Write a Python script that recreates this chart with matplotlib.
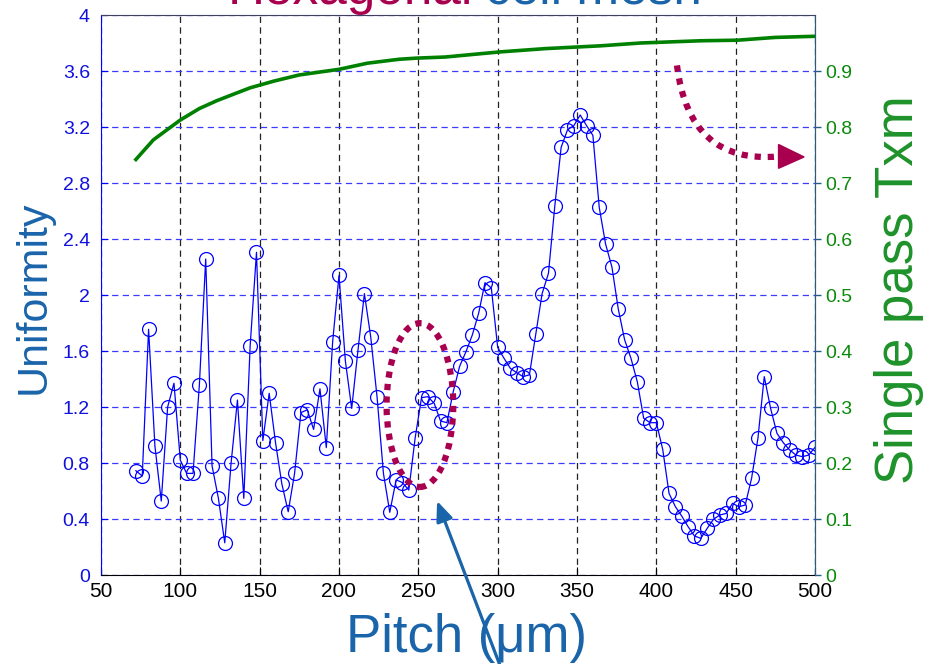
import matplotlib
matplotlib.use("Agg")
import matplotlib.pyplot as plt
import numpy as np
from matplotlib.patches import Ellipse, Polygon, PathPatch, ConnectionPatch
from matplotlib.path import Path

plt.rcParams['font.family'] = ['Liberation Sans', 'DejaVu Sans']

# pitch grid (um)
pitch = [72, 76, 80, 84, 88, 92, 96, 100, 104, 108, 112, 116, 120, 124, 128, 132,
         136, 140, 144, 148, 152, 156, 160, 164, 168, 172, 176, 180, 184, 188, 192,
         196, 200, 204, 208, 212, 216, 220, 224, 228, 232, 236, 240, 244, 248, 252,
         256, 260, 264, 268, 272, 276, 280, 284, 288, 292, 296, 300, 304, 308, 312,
         316, 320, 324, 328, 332, 336, 340, 344, 348, 352, 356, 360, 364, 368, 372,
         376, 380, 384, 388, 392, 396, 400, 404, 408, 412, 416, 420, 424, 428, 432,
         436, 440, 444, 448, 452, 456, 460, 464, 468, 472, 476, 480, 484, 488, 492,
         496, 500]

uniformity = [0.745, 0.707, 1.755, 0.92, 0.528, 1.20, 1.37, 0.82, 0.726, 0.726,
              1.357, 2.257, 0.78, 0.548, 0.23, 0.80, 1.25, 0.548, 1.636, 2.305,
              0.96, 1.298, 0.945, 0.65, 0.452,
              0.726, 1.16, 1.18, 1.04, 1.33, 0.91, 1.667, 2.14, 1.53, 1.19,
              1.61, 2.01, 1.70, 1.27, 0.726, 0.448, 0.68, 0.66, 0.607, 0.98,
              1.267, 1.274, 1.226, 1.10, 1.088, 1.31, 1.49, 1.595, 1.714, 1.87,
              2.088, 2.05, 1.626, 1.548, 1.476, 1.445, 1.417, 1.43, 1.72, 2.01,
              2.155, 2.636, 3.055, 3.18, 3.21, 3.286, 3.21, 3.14, 2.626, 2.364,
              2.20, 1.90, 1.68, 1.548, 1.38,
              1.12, 1.088, 1.088, 0.898, 0.583, 0.488, 0.421, 0.345, 0.279, 0.262,
              0.333, 0.398, 0.429, 0.44, 0.512, 0.488, 0.50, 0.69, 0.976, 1.417,
              1.19, 1.012, 0.945, 0.893, 0.857, 0.845, 0.857, 0.912]

# single pass transmission
txm_pitch = [72, 83, 100, 112, 123, 133, 144, 159, 175, 200, 218, 238, 249, 267,
             301, 330, 365, 390, 428, 451, 475, 500]
txm = [0.742, 0.777, 0.8125, 0.833, 0.847, 0.858, 0.870, 0.882, 0.893, 0.903,
       0.914, 0.921, 0.923, 0.925, 0.934, 0.940, 0.945, 0.950, 0.954, 0.955,
       0.960, 0.962]

yticks_left = [0, 0.4, 0.8, 1.2, 1.6, 2, 2.4, 2.8, 3.2, 3.6, 4]
yticklabels_left = ['0', '0.4', '0.8', '1.2', '1.6', '2', '2.4', '2.8', '3.2', '3.6', '4']
yticks_right = [0, 0.1, 0.2, 0.3, 0.4, 0.5, 0.6, 0.7, 0.8, 0.9]
xticks = [50, 100, 150, 200, 250, 300, 350, 400, 450, 500]

MAROON = '#A8004F'
LBLUE = '#1A64AA'
GREEN = '#1E922A'

fig = plt.figure(figsize=(9.35, 6.64), dpi=100)
ax = fig.add_axes([0.108, 0.134, 0.7637, 0.8434])
ax2 = ax.twinx()

ax.plot(pitch, uniformity, color='#0000FF', lw=0.9, marker='o', ms=10,
        mfc='none', mec='#0000FF', mew=0.9, zorder=3)
ax.set_xlim(50, 500)
ax.set_ylim(0, 4)
ax.set_xticks(xticks)
ax.set_yticks(yticks_left)
ax.set_yticklabels(yticklabels_left)
ax.set_axisbelow(True)
ax.grid(axis='x', color='#222222', ls=(0, (5, 3.5)), lw=0.9)
ax.grid(axis='y', color='#3c3cff', ls=(0, (5, 3.5)), lw=0.9)
ax.tick_params(axis='x', direction='in', length=6, width=0.8, colors='black',
               labelsize=15, pad=5)
ax.tick_params(axis='y', direction='in', length=5, width=0.8, colors='#0000FF',
               labelcolor='#1010E0', labelsize=14, pad=8)
ax.spines['left'].set_color('#0000FF')
ax.spines['bottom'].set_color('black')
ax.spines['top'].set_color('#404060')
ax.spines['right'].set_color('#275E7E')

ax2.plot(txm_pitch, txm, color='#008000', lw=2.6, zorder=3)
ax2.set_ylim(0, 1.0)
ax2.set_yticks(yticks_right)
ax2.set_yticklabels(['0', '0.1', '0.2', '0.3', '0.4', '0.5', '0.6', '0.7', '0.8', '0.9'])
ax2.tick_params(axis='y', direction='out', length=4, width=1.0, color='#275E7E',
                labelcolor='#0A8A0A', labelsize=14, pad=3)
ax2.spines['right'].set_color('#275E7E')
ax2.spines['left'].set_visible(False)
ax2.spines['top'].set_visible(False)
ax2.spines['bottom'].set_visible(False)

# dotted ellipse highlighting the dip
ax.add_patch(Ellipse((251, 1.214), width=42, height=1.17, fill=False,
                     edgecolor=MAROON, lw=4.5, ls=(0, (1, 1)), zorder=4))

# dotted curved arrow toward right axis
curve = Path([(413, 3.64), (420.6, 2.93), (477.5, 2.99)],
             [Path.MOVETO, Path.CURVE3, Path.CURVE3])
ax.add_patch(PathPatch(curve, fill=False, edgecolor=MAROON, lw=4.5,
                       ls=(0, (1, 1.1)), zorder=4))
ax.add_patch(Polygon([(477.0, 3.075), (493.1, 2.986), (477.0, 2.905)],
                     closed=True, facecolor=MAROON, edgecolor=MAROON, zorder=4))

# axis labels and title
fig.text(34 / 935, 1 - 297 / 664, 'Uniformity', rotation=90, ha='center',
         va='center', fontsize=31, color=LBLUE)
fig.text(899 / 935, 1 - 290 / 664, 'Single pass Txm', rotation=90, ha='center',
         va='center', fontsize=38, color=GREEN)
fig.text(467 / 935, 1 - 638 / 664, 'Pitch (\u03bcm)', ha='center', va='center',
         fontsize=38, color=LBLUE)
t1 = fig.text(228 / 935, 1 - 4 / 664, 'Hexagonal', ha='left', va='baseline',
              fontsize=37, color=MAROON)
fig.canvas.draw()
bb = t1.get_window_extent()
fig.text((bb.x1 + 12) / 935, 1 - 4 / 664, 'cell mesh', ha='left', va='baseline',
         fontsize=37, color=LBLUE)

# blue pointer arrow from below
con = ConnectionPatch(xyA=(502 / 935, -0.01), coordsA=fig.transFigure,
                      xyB=(261.8, 0.529), coordsB=ax.transData,
                      arrowstyle='-|>,head_length=0.6,head_width=0.25',
                      mutation_scale=20, color=LBLUE, lw=2.3, zorder=10)
fig.add_artist(con)

fig.savefig('out.png', dpi=100)
